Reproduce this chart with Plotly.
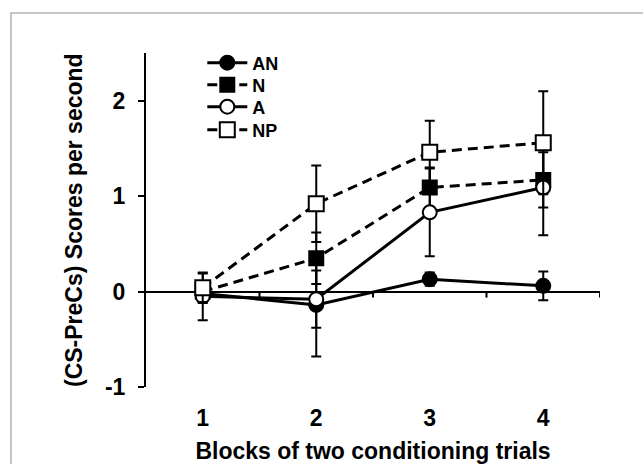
import plotly.graph_objects as go

blocks = [1, 2, 3, 4]
tick_text = ["1", "2", "3", "4"]
an_vals = [-0.02, -0.14, 0.13, 0.06]
an_err = [0.10, 0.54, 0.07, 0.15]
n_vals = [0.00, 0.35, 1.09, 1.17]
n_err = [0.10, 0.27, 0.21, 0.29]
a_vals = [-0.05, -0.08, 0.83, 1.09]
a_err = [0.25, 0.30, 0.46, 0.50]
np_vals = [0.04, 0.92, 1.46, 1.56]
np_err = [0.15, 0.40, 0.33, 0.54]
y_ticks = [-1, 0, 1, 2]
y_tick_text = ["-1", "0", "1", "2"]
x_boundaries = [1.5, 2.5, 3.5, 4.5]

FONT = "Arial, 'Liberation Sans', sans-serif"
fig = go.Figure()

series = [
    ("AN", an_vals, an_err, "circle", "black", "solid", 14, "legend", 63),
    ("N", n_vals, n_err, "square", "black", "10px,6px", 14, "legend2", 85),
    ("A", a_vals, a_err, "circle", "white", "solid", 14, "legend3", 107),
    ("NP", np_vals, np_err, "square", "white", "10px,6px", 15, "legend4", 130),
]
legend_layouts = {}
for name, vals, err, sym, fill, dash, size, leg, ypix in series:
    fig.add_trace(go.Scatter(
        x=blocks, y=vals, name=name, mode="lines+markers", legend=leg,
        line=dict(color="black", width=3, dash=dash),
        marker=dict(symbol=sym, size=size, color=fill,
                    line=dict(color="black", width=2)),
        error_y=dict(type="data", array=err, visible=True,
                     color="black", thickness=2, width=5),
    ))
    legend_layouts[leg] = dict(
        x=0.124, y=(387 - ypix) / 334, xanchor="left", yanchor="middle",
        bgcolor="rgba(0,0,0,0)", itemwidth=40,
        font=dict(size=18, family=FONT, weight="bold", color="black"))

shapes = []
for xb in x_boundaries:
    shapes.append(dict(type="line", xref="x", yref="y", x0=xb, x1=xb,
                       ysizemode="pixel", yanchor=0, y0=0, y1=-6,
                       line=dict(color="black", width=2)))
shapes.append(dict(type="rect", xref="paper", yref="paper",
                   x0=-0.2974, x1=1.3, y0=-0.5, y1=1.1198,
                   line=dict(color="#b4b4b4", width=1.5),
                   fillcolor="rgba(0,0,0,0)", layer="below"))

fig.update_layout(
    width=643, height=464,
    margin=dict(l=146, r=43, t=53, b=77),
    paper_bgcolor="white", plot_bgcolor="white",
    font=dict(family=FONT, color="black"),
    showlegend=True,
    shapes=shapes,
    annotations=[dict(text="<b>(CS-PreCs) Scores per second</b>",
                      xref="paper", yref="paper", x=0, y=0.5,
                      xshift=-72, xanchor="center", yanchor="middle",
                      textangle=-90, showarrow=False,
                      font=dict(size=23, family=FONT, color="black"))],
    xaxis=dict(range=[0.5, 4.5], tickmode="array", tickvals=blocks,
               ticktext=tick_text, showgrid=False, zeroline=False,
               showline=False, ticks="", ticklabelstandoff=15,
               tickfont=dict(size=23, weight="bold"),
               title=dict(text="Blocks of two conditioning trials",
                          font=dict(size=23, weight="bold"), standoff=15)),
    yaxis=dict(range=[-1, 2.5], tickmode="array", tickvals=y_ticks,
               ticktext=y_tick_text,
               showgrid=False, zeroline=True, zerolinecolor="black",
               zerolinewidth=2, showline=True, linecolor="black",
               linewidth=2, ticks="outside", ticklen=6, tickwidth=2,
               tickcolor="black", ticklabelstandoff=8,
               tickfont=dict(size=23, weight="bold")),
)
fig.update_layout(**legend_layouts)
fig.update_xaxes(automargin=False)
fig.update_yaxes(automargin=False)
fig.write_html("out.html")
